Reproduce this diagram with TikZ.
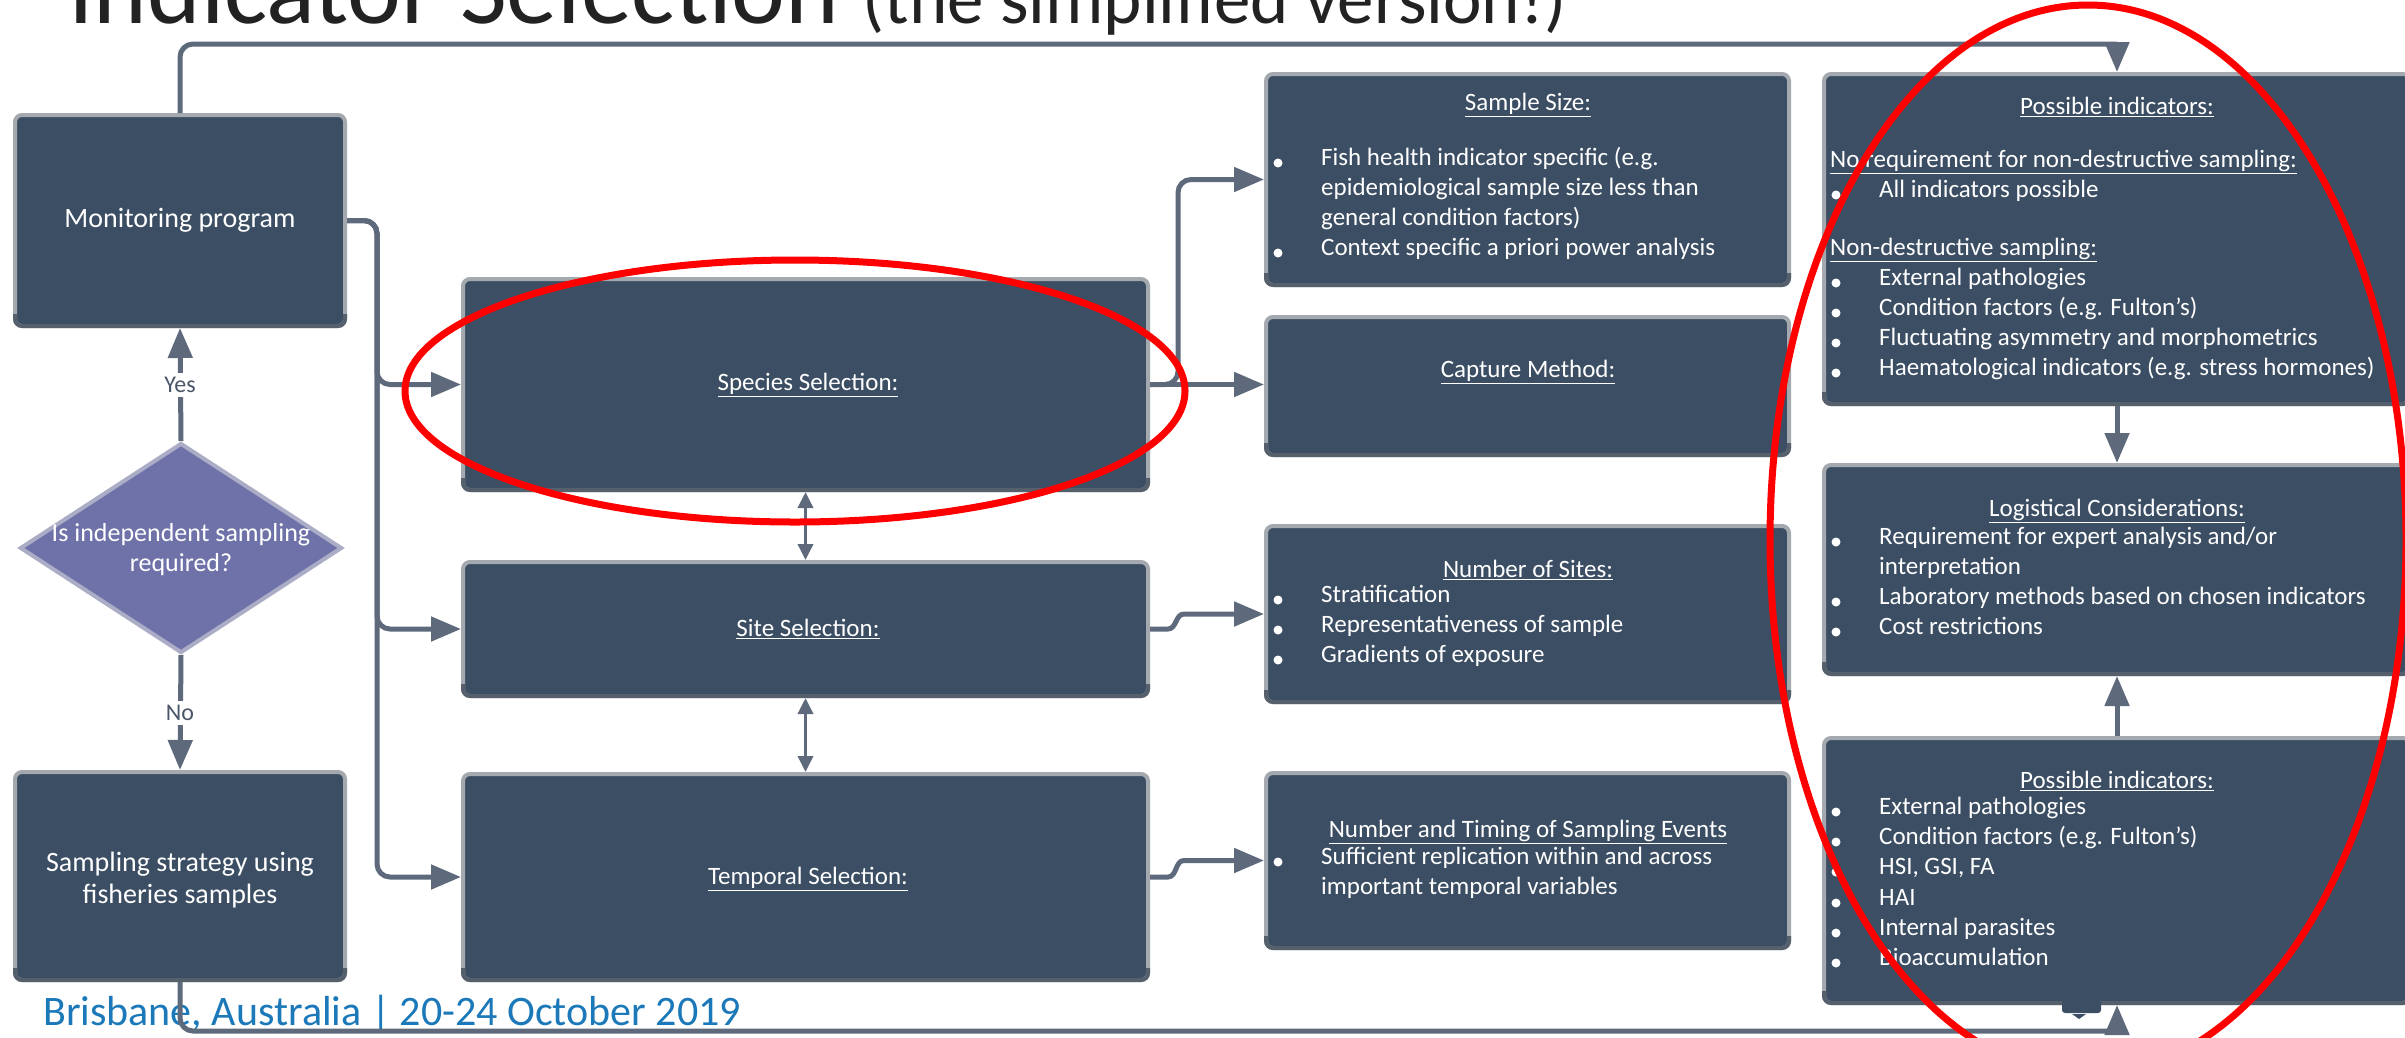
\documentclass[tikz,border=0pt]{standalone}
\usepackage{fontspec}
\setmainfont{Carlito}
\usetikzlibrary{arrows.meta,shapes.geometric,calc}

\definecolor{boxfill}{HTML}{3C4E63}
\definecolor{boxedge}{HTML}{A4A9AF}
\definecolor{boxlow}{HTML}{56606D}
\definecolor{wirecol}{HTML}{5E6A7B}
\definecolor{decfill}{HTML}{6E72A8}
\definecolor{decedge}{HTML}{ABADC6}
\definecolor{footblue}{HTML}{1B78B9}
\definecolor{titlegray}{HTML}{222222}
\definecolor{labelcol}{HTML}{4A5567}
\definecolor{markred}{HTML}{FF0000}

\tikzset{
  panel/.style={draw=boxedge, line width=4pt, fill=boxfill, rounded corners=7pt, inner sep=0pt},
  panellow/.style={draw=boxlow, line width=4pt, rounded corners=7pt},
  wire/.style={draw=wirecol, line width=5pt, rounded corners=13pt},
  arr/.style={-{Triangle[length=30pt,width=24pt]}},
  twoway/.style={draw=wirecol, line width=3.5pt, {Triangle[length=16pt,width=15pt]}-{Triangle[length=16pt,width=15pt]}},
  bodytext/.style={text=white, font=\fontsize{25}{30}\selectfont, inner sep=0pt},
  bigtext/.style={text=white, font=\fontsize{28}{32}\selectfont, inner sep=0pt},
  wirelabel/.style={fill=white, text=labelcol, font=\fontsize{24}{28}\selectfont, inner sep=4pt},
  ring/.style={draw=markred, line width=7pt},
}

% a panel from its corners (x1,y1) to (x2,y2), y measured downwards,
% with a darker lower rim
\newcommand\panel[5]{%
  \node[panel, minimum width={#4-#2}, minimum height={#5-#3}] (#1) at ({(#2+#4)/2},{(#3+#5)/2}) {};
  \draw[panellow] (#2,{#5-12}) -- (#2,#5) -- (#4,#5) -- (#4,{#5-12});}
% rows of text starting at (x, y0), one every #4 units
\newcommand\rows[5]{\foreach \t [count=\i] in {#5} \node[bodytext, anchor=mid west] (#1-\i) at (#2, {#3+#4*(\i-1)}) {\t};}
% bullet dots at x for each listed y
\newcommand\dotsat[2]{\foreach \y in {#2} \fill[white] (#1,\y) circle (4.5pt);}

\begin{document}
\begin{tikzpicture}[x=1pt, y=-1pt]
\useasboundingbox (0,0) rectangle (2405,1037);
\fill[white] (0,0) rectangle (2405,1037);

% heading
\node[anchor=base west, inner sep=0pt, text=titlegray] (heading) at (68,23)
  {\fontsize{102}{110}\selectfont Indicator Selection \fontsize{73}{80}\selectfont(the simplified version!)};

% panels
\panel{mon}{15}{115}{345}{326}
\node[draw=decedge, line width=4pt, fill=decfill, shape=diamond, aspect=1.533,
      minimum width=322pt, minimum height=210pt, inner sep=0pt] (dec) at (181,548) {};
\panel{smp}{15}{772}{345}{980}
\panel{spc}{463}{279}{1148}{490}
\panel{site}{463}{562}{1148}{696}
\panel{tmp}{463}{774}{1148}{980}
\panel{ss}{1266}{74}{1789}{285}
\panel{cap}{1266}{317}{1789}{455}
\panel{nos}{1266}{526}{1789}{702}
\panel{nte}{1266}{773}{1789}{948}
\panel{pia}{1824}{74}{2410}{404}
\panel{lgc}{1824}{465}{2410}{674}
\panel{pib}{1824}{738}{2410}{1003}

% small tab under the lower indicator panel
\fill[boxfill, rounded corners=3pt] (2062,1000) rectangle (2101,1013);
\fill[boxfill] (2072,1014) -- (2086,1014) -- (2079,1019) -- cycle;

% panel texts
\node[bigtext] (montxt) at (180,220) {Monitoring program};
\node[text=white, font=\fontsize{26}{30}\selectfont, align=center, inner sep=0pt] (dectxt) at (181,550)
  {Is independent sampling\\required?};
\node[bigtext, align=center, font=\fontsize{28}{32}\selectfont] (smptxt) at (180,880)
  {Sampling strategy using\\fisheries samples};

\node[bodytext] (spctxt) at (808,385) {\underline{Species Selection:}};
\node[bodytext] (sitetxt) at (808,629) {\underline{Site Selection:}};
\node[bodytext] (tmptxt) at (808,879) {\underline{Temporal Selection:}};

\node[bodytext] (sshead) at (1528,105) {\underline{Sample Size:}};
\rows{ssrow}{1321}{163}{30}{Fish health indicator specific (e.g., epidemiological sample size less than, general condition factors), Context specific a priori power analysis}
\dotsat{1278}{163,253}

\node[bodytext] (caphead) at (1528,372) {\underline{Capture Method:}};

\node[bodytext] (noshead) at (1528,570) {\underline{Number of Sites:}};
\rows{nosrow}{1321}{600}{30}{Stratification, Representativeness of sample, Gradients of exposure}
\dotsat{1278}{600,630,660}

\node[bodytext] (ntehead) at (1528,832) {\underline{Number and Timing of Sampling Events}};
\rows{nterow}{1321}{862}{30}{Sufficient replication within and across, important temporal variables}
\dotsat{1278}{862}

\node[bodytext] (piahead) at (2117,107) {\underline{Possible indicators:}};
\node[bodytext, anchor=mid west] (piasub1) at (1830,165) {\underline{No requirement for non-destructive sampling:}};
\rows{piarow1}{1879}{195}{30}{All indicators possible}
\node[bodytext, anchor=mid west] (piasub2) at (1830,253) {\underline{Non-destructive sampling:}};
\rows{piarow2}{1879}{283}{30}{External pathologies, Condition factors (e.g. Fulton’s), Fluctuating asymmetry and morphometrics, Haematological indicators (e.g. stress hormones)}
\dotsat{1836}{195,283,313,343,373}

\node[bodytext] (lgchead) at (2117,511) {\underline{Logistical Considerations:}};
\rows{lgcrow}{1879}{542}{30}{Requirement for expert analysis and/or, interpretation, Laboratory methods based on chosen indicators, Cost restrictions}
\dotsat{1836}{542,602,632}

\node[bodytext] (pibhead) at (2117,781) {\underline{Possible indicators:}};
\rows{pibrow}{1879}{812}{30.2}{External pathologies, Condition factors (e.g. Fulton’s), {HSI, GSI, FA}, HAI, Internal parasites, Bioaccumulation}
\dotsat{1836}{812,842,872,903,933,963}

% footer
\node[anchor=base west, inner sep=0pt, text=footblue, font=\fontsize{42}{46}\selectfont] (footer) at (43,1025)
  {Brisbane, Australia | 20-24 October 2019};

% connectors
\coordinate (topline) at (0,44);
\coordinate (botline) at (0,1031);
\coordinate (trunk) at (377,0);

\draw[wire] (mon.north) -- (mon.north |- topline) -- (pia.north |- topline);
\draw[wire, arr, rounded corners=0pt] (pia.north |- topline) -- (pia.north);

\draw[wire] (smp.south) -- (smp.south |- botline) -- (pib.south |- botline);
\draw[wire, arr, rounded corners=0pt] (pib.south |- botline) -- (pib.south);

\draw[wire, arr] (dec.north) -- (mon.south);
\node[wirelabel] (yes) at (180,385) {Yes};
\draw[wire, arr] (dec.south) -- (smp.north);
\node[wirelabel] (no) at (180,713) {No};

\draw[wire, arr] (mon.east) -- (trunk |- mon.east) -- (trunk |- spc.west) -- (spc.west);
\draw[wire, arr] (mon.east) -- (trunk |- mon.east) -- (trunk |- site.west) -- (site.west);
\draw[wire, arr] (mon.east) -- (trunk |- mon.east) -- (trunk |- tmp.west) -- (tmp.west);

\draw[wire, arr] (spc.east) -- (spc.east -| cap.west);
\draw[wire, arr] (spc.east) -- ++(28,0) |- (ss.west);

\draw[wire, arr, rounded corners=0pt] (site.east) -- ++(18,0) to[out=0,in=180] ($(nos.west)+(-80,0)$) -- (nos.west);
\draw[wire, arr, rounded corners=0pt] (tmp.east) -- ++(18,0) to[out=0,in=180] ($(nte.west)+(-80,0)$) -- (nte.west);

\draw[twoway] (spc.south) -- (site.north);
\draw[twoway] (site.south) -- (tmp.north);

\draw[wire, arr] (pia.south) -- (lgc.north);
\draw[wire, arr] (pib.north) -- (lgc.south);

% red emphasis rings
\draw[ring] (795,391) ellipse [x radius=390, y radius=131];
\draw[ring] (2088,540) ellipse [x radius=318, y radius=535];
\end{tikzpicture}
\end{document}
